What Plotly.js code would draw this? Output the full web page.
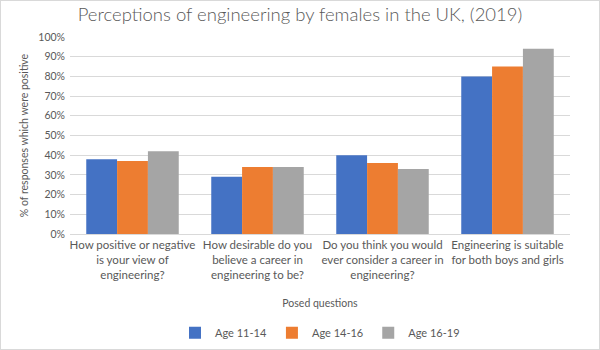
<!DOCTYPE html>
<html>
<head>
<meta charset="utf-8">
<script src="https://cdn.plot.ly/plotly-3.0.1.min.js"></script>
<style>
html,body{margin:0;padding:0;background:#fff;}
#chart{width:598px;height:348px;border:1px solid #d9d9d9;}
</style>
</head>
<body>
<div id="chart"></div>
<script>
const categories = [
  "How positive or negative<br>is your view of<br>engineering?",
  "How desirable do you<br>believe a career in<br>engineering to be?",
  "Do you think you would<br>ever consider a career in<br>engineering?",
  "Engineering is suitable<br>for both boys and girls"
];
const age11to14 = [0.38, 0.29, 0.40, 0.80];
const age14to16 = [0.37, 0.34, 0.36, 0.85];
const age16to19 = [0.42, 0.34, 0.33, 0.94];
const seriesNames = ["Age 11-14", "Age 14-16", "Age 16-19"];
const colors = ["#4472c4", "#ed7d31", "#a5a5a5"];
const tickVals = [0,0.1,0.2,0.3,0.4,0.5,0.6,0.7,0.8,0.9,1.0];

const seriesData = [age11to14, age14to16, age16to19];
const traces = seriesData.map((vals, i) => ({
  type: 'bar',
  x: categories,
  y: vals,
  name: seriesNames[i],
  marker: {color: colors[i]},
  hoverinfo: 'y'
}));

const font = "Lato, 'Open Sans', sans-serif";
const layout = {
  width: 598, height: 348,
  margin: {l: 69, r: 29, t: 36, b: 115},
  paper_bgcolor: '#fff', plot_bgcolor: '#fff',
  font: {family: font, color: '#595959', size: 10},
  title: {text: 'Perceptions of engineering by females in the UK, (2019)',
          font: {family: font, size: 18.5, color: '#595959', weight: 300},
          x: 0.5, xanchor: 'center', y: 0.962, yanchor: 'middle', yref: 'container'},
  barmode: 'group', bargap: 0.26, bargroupgap: 0,
  xaxis: {
    title: {text: 'Posed questions', font: {size: 10.5, color: '#595959'}, standoff: 19},
    tickfont: {size: 11.5, color: '#595959'},
    showline: true, linecolor: '#d9d9d9', linewidth: 1,
    ticks: '', automargin: false
  },
  yaxis: {
    title: {text: '% of responses which were positive', font: {size: 10.5, color: '#595959'}, standoff: 7},
    range: [0, 1.0], tickvals: tickVals, tickformat: '.0%',
    tickfont: {size: 10.5, color: '#595959'},
    gridcolor: '#d9d9d9', gridwidth: 1, zeroline: false,
    ticks: '', ticklabelstandoff: 4, automargin: false
  },
  legend: {orientation: 'h', x: 0.5, xanchor: 'center', yref: 'container', y: 0.047, yanchor: 'middle',
           font: {size: 11, color: '#595959'}, itemwidth: 30, traceorder: 'normal'},
  showlegend: true
};
Plotly.newPlot('chart', traces, layout, {displayModeBar: false, staticPlot: true});
</script>
</body>
</html>
